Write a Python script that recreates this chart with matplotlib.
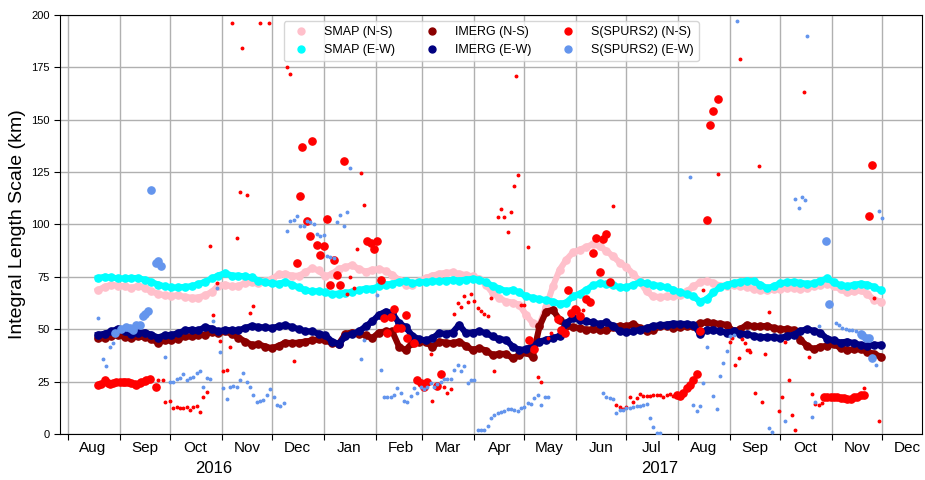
import numpy as np
import pandas as pd
import matplotlib
matplotlib.use("Agg")
import matplotlib.pyplot as plt
import matplotlib.dates as mdates
import matplotlib.transforms as mtransforms
from matplotlib.lines import Line2D

plt.rcParams['font.family'] = ['Liberation Sans', 'DejaVu Sans']

# 4-day sampled series, starting 2016-08-19
series_dates = pd.date_range('2016-08-19', periods=118, freq='4D')

smap_ns = [68.6, 70.2, 71.2, 70.7, 70.4, 69.6, 70.7, 69.7, 68.0, 66.9, 66.1, 65.9, 66.1, 65.4, 65.0, 65.1, 66.1, 67.8, 70.7, 71.3, 70.4,
           70.7, 72.0, 72.3, 71.8, 72.8, 73.9, 76.1, 76.4, 75.5, 75.5, 77.1, 79.1, 78.0, 75.2, 76.4, 78.7, 79.6, 80.6, 78.7, 77.5, 78.3, 78.7, 77.7, 76.0, 73.5, 71.0,
           71.2, 72.8, 74.4, 75.5, 76.4, 76.9, 77.1, 76.4, 75.8, 75.2, 74.0, 71.2, 67.2, 64.8, 63.2, 62.7, 61.6, 56.8, 52.9, 52.1, 60.8, 70.4, 78.3, 83.1, 86.6,
           87.9, 89.2, 90.6, 89.5, 87.4, 84.7, 81.8, 79.6, 76.4, 72.8, 68.0, 65.6, 65.3, 65.6, 65.6, 66.1, 68.0, 70.4, 72.3, 73.2, 72.0, 70.7, 70.7, 71.2, 70.7, 70.1,
           69.1, 68.8, 68.5, 69.1, 69.4, 69.7, 69.6, 69.4, 69.6, 70.4, 71.3, 71.7, 70.4, 69.1, 67.5, 68.0, 68.5, 66.9, 64.0, 63.2]

smap_ew = [74.4, 75.0, 74.7, 74.2, 74.2, 74.4, 74.4, 73.6, 72.5, 71.3, 70.4, 69.9, 69.9, 70.2, 70.5, 71.5, 72.6, 74.2, 75.6, 76.8, 75.6,
           75.5, 75.2, 74.7, 73.2, 72.3, 71.8, 71.7, 72.5, 71.3, 69.9, 68.6, 68.0, 68.2, 67.5, 66.7, 67.0, 67.4, 67.8, 68.6, 69.4, 69.4, 70.4, 71.3, 71.7, 72.5, 73.0,
           72.0, 72.3, 72.6, 72.8, 72.9, 73.1, 73.6, 73.2, 73.7, 74.0, 73.6, 72.3, 70.7, 69.4, 68.2, 68.8, 67.5, 65.6, 65.0, 64.3, 63.9, 63.1, 62.1, 62.7, 65.6,
           66.9, 68.8, 70.9, 71.8, 71.5, 70.9, 70.1, 69.9, 71.2, 72.3, 71.8, 71.0, 70.7, 69.9, 68.8, 67.5, 66.7, 65.6, 63.2, 64.3, 67.5, 70.1, 71.2, 72.0, 72.6, 73.2,
           72.8, 71.3, 69.6, 70.5, 72.0, 72.3, 72.6, 72.1, 71.7, 71.8, 73.1, 74.2, 72.3, 71.0, 70.5, 71.2, 71.7, 71.3, 70.1, 68.5]

imerg_ns = [45.7, 45.7, 46.5, 47.3, 46.2, 45.7, 46.5, 46.2, 45.2, 43.6, 44.6, 44.9, 45.4, 46.5, 46.5, 47.3, 47.3, 48.6, 48.1, 48.9, 47.8,
            46.0, 44.1, 42.5, 42.8, 41.7, 40.9, 42.0, 43.6, 43.3, 43.6, 44.1, 44.6, 45.2, 44.6, 43.3, 43.0, 47.8, 48.4, 47.8, 47.1, 45.7, 48.4, 48.9, 48.9, 41.7, 40.0,
            43.6, 43.9, 44.1, 41.4, 44.1, 43.6, 43.3, 44.1, 42.0, 40.1, 40.9, 39.8, 37.7, 38.2, 38.2, 36.1, 37.7, 38.9, 36.9, 51.3, 58.4, 59.2, 54.5, 51.6, 51.0,
            50.5, 49.7, 50.0, 49.7, 49.4, 51.0, 51.6, 51.3, 52.5, 50.5, 48.9, 49.7, 51.3, 51.6, 50.5, 51.0, 51.3, 51.3, 52.9, 53.2, 52.9, 52.5, 52.1, 48.9, 50.0, 52.1,
            51.3, 51.3, 51.6, 50.5, 50.0, 50.0, 49.7, 44.9, 42.0, 40.4, 41.7, 42.0, 43.0, 40.9, 40.1, 40.4, 40.4, 39.3, 38.2, 36.9]

imerg_ew = [47.3, 47.8, 48.9, 50.2, 48.9, 47.6, 48.4, 48.4, 47.3, 46.0, 47.1, 47.3, 48.1, 49.4, 49.7, 49.4, 51.0, 50.3, 48.9, 49.7, 49.4,
            49.5, 50.5, 51.6, 51.0, 50.8, 50.6, 51.3, 51.9, 51.0, 50.0, 49.0, 48.9, 47.8, 47.1, 44.1, 43.0, 46.5, 47.8, 48.9, 51.3, 53.7, 56.8, 58.4, 57.6, 52.9, 51.0,
            46.8, 45.2, 44.6, 45.7, 48.1, 47.8, 48.4, 52.1, 48.1, 48.4, 48.9, 48.1, 46.5, 45.2, 44.9, 41.7, 40.1, 40.4, 42.0, 44.1, 44.9, 45.7, 46.8, 52.9, 55.3,
            54.5, 53.7, 53.2, 52.5, 53.2, 51.6, 48.9, 48.6, 48.9, 49.7, 50.5, 51.6, 51.8, 52.2, 52.7, 52.5, 52.5, 52.1, 47.8, 49.7, 49.7, 48.9, 48.4, 48.9, 47.8, 47.6,
            46.8, 46.2, 46.2, 46.2, 45.7, 46.8, 47.3, 49.2, 50.0, 49.2, 48.1, 45.5, 44.6, 43.6, 44.1, 43.3, 42.5, 42.0, 42.5, 42.5]

# S(SPURS2) N-S, points passing the quality check (large) and the rest (small)
spurs_ns_big_dates = ['2016-08-19', '2016-08-21', '2016-08-23', '2016-08-25', '2016-08-26', '2016-08-28', '2016-08-30',
                      '2016-09-01', '2016-09-03', '2016-09-04', '2016-09-06', '2016-09-08', '2016-09-10', '2016-09-11',
                      '2016-09-13', '2016-09-14', '2016-09-16', '2016-09-17', '2016-09-19', '2016-09-23',
                      '2016-12-16', '2016-12-18', '2016-12-19', '2016-12-22', '2016-12-24', '2016-12-25', '2016-12-28',
                      '2016-12-30', '2017-01-01', '2017-01-03', '2017-01-05', '2017-01-07', '2017-01-09', '2017-01-11',
                      '2017-01-13', '2017-01-27', '2017-01-29', '2017-01-31', '2017-02-02', '2017-02-04', '2017-02-06',
                      '2017-02-08', '2017-02-10', '2017-02-12', '2017-02-14', '2017-02-16', '2017-02-19', '2017-02-20',
                      '2017-02-24', '2017-02-26', '2017-02-28', '2017-03-02', '2017-03-04', '2017-03-10', '2017-03-12',
                      '2017-05-04', '2017-05-07', '2017-05-21', '2017-05-23', '2017-05-25', '2017-05-27', '2017-05-29',
                      '2017-05-31', '2017-06-01', '2017-06-03', '2017-06-07', '2017-06-09', '2017-06-11', '2017-06-13',
                      '2017-06-15', '2017-06-17', '2017-06-19', '2017-06-21', '2017-07-31', '2017-08-02', '2017-08-04',
                      '2017-08-06', '2017-08-08', '2017-08-10', '2017-08-12', '2017-08-14', '2017-08-18', '2017-08-20',
                      '2017-08-22', '2017-08-25', '2017-10-27', '2017-10-29', '2017-10-31', '2017-11-02', '2017-11-04',
                      '2017-11-06', '2017-11-08', '2017-11-10', '2017-11-12', '2017-11-14', '2017-11-16', '2017-11-18',
                      '2017-11-20', '2017-11-23', '2017-11-25']
spurs_ns_big_vals = [23.2, 24.0, 25.8, 24.5, 23.7, 24.2, 24.7,
                     24.9, 24.7, 24.7, 24.9, 24.5, 23.9, 23.4,
                     24.2, 24.7, 25.3, 25.8, 26.1, 22.6,
                     81.8, 113.7, 137.0, 101.8, 94.6, 140.0, 90.0,
                     85.4, 89.5, 102.5, 71.0, 83.1, 76.0, 71.3,
                     130.4, 91.9, 91.1, 88.2, 91.9, 73.6, 55.3,
                     48.4, 56.0, 59.6, 50.5, 50.5, 56.8, 45.7,
                     43.3, 25.8, 24.2, 22.3, 25.0, 22.9, 28.7,
                     44.6, 40.6, 54.9, 49.7, 48.4, 68.8, 57.6,
                     59.6, 59.2, 56.5, 64.5, 63.2, 86.3, 93.5,
                     77.2, 93.0, 95.4, 72.3, 18.6, 18.2, 19.4,
                     21.8, 23.4, 25.5, 28.7, 49.2, 102.2, 147.5,
                     154.0, 160.0, 17.5, 17.5, 17.7, 17.5, 17.6,
                     17.3, 17.2, 16.8, 16.6, 17.5, 17.8, 18.4,
                     18.8, 103.8, 128.3]

spurs_ns_small_dates = ['2016-09-24', '2016-09-27', '2016-09-28', '2016-10-01', '2016-10-03', '2016-10-05', '2016-10-07',
                        '2016-10-09', '2016-10-11', '2016-10-13', '2016-10-15', '2016-10-17', '2016-10-19', '2016-10-21',
                        '2016-10-23', '2016-10-25', '2016-10-27', '2016-10-29', '2016-10-31', '2016-11-02', '2016-11-04',
                        '2016-11-06', '2016-11-07', '2016-11-10', '2016-11-12', '2016-11-13', '2016-11-16', '2016-11-18',
                        '2016-11-20', '2016-11-24', '2016-11-29', '2016-12-10', '2016-12-12', '2016-12-14',
                        '2017-01-15', '2017-01-17', '2017-01-19', '2017-01-21', '2017-01-23', '2017-01-25',
                        '2017-03-06', '2017-03-07', '2017-03-14', '2017-03-16', '2017-03-18', '2017-03-20', '2017-03-22',
                        '2017-03-24', '2017-03-26', '2017-03-28', '2017-03-30', '2017-04-01', '2017-04-03', '2017-04-05',
                        '2017-04-07', '2017-04-09', '2017-04-11', '2017-04-13', '2017-04-15', '2017-04-17', '2017-04-19',
                        '2017-04-21', '2017-04-23', '2017-04-25', '2017-04-26', '2017-04-27', '2017-04-29', '2017-05-01',
                        '2017-05-03', '2017-05-09', '2017-05-11', '2017-05-15', '2017-05-17', '2017-06-05', '2017-06-23',
                        '2017-06-25', '2017-06-27', '2017-06-29', '2017-07-01', '2017-07-03', '2017-07-05', '2017-07-07',
                        '2017-07-09', '2017-07-11', '2017-07-13', '2017-07-15', '2017-07-17', '2017-07-19', '2017-07-21',
                        '2017-07-23', '2017-07-25', '2017-07-27', '2017-07-29', '2017-08-16', '2017-08-25', '2017-09-01',
                        '2017-09-02', '2017-09-04', '2017-09-06', '2017-09-07', '2017-09-08', '2017-09-10', '2017-09-11',
                        '2017-09-12', '2017-09-13', '2017-09-16', '2017-09-18', '2017-09-20', '2017-09-22', '2017-09-24',
                        '2017-09-30', '2017-10-02', '2017-10-04', '2017-10-06', '2017-10-08', '2017-10-10', '2017-10-15',
                        '2017-10-18', '2017-10-20', '2017-10-22', '2017-10-24', '2017-10-26', '2017-11-20', '2017-11-26',
                        '2017-11-29']
spurs_ns_small_vals = [25.8, 25.8, 15.4, 15.9, 12.3, 12.7, 12.6,
                       12.6, 13.0, 11.5, 13.0, 13.4, 10.4, 17.8,
                       19.9, 89.8, 56.8, 72.0, 44.4, 29.8, 30.6,
                       41.7, 196.0, 93.5, 115.7, 184.0, 114.0, 57.7,
                       61.2, 196.0, 196.0, 175.0, 172.0, 35.0,
                       66.8, 75.1, 69.8, 88.3, 124.7, 109.3,
                       38.2, 15.9, 22.6, 19.7, 21.3, 57.1, 62.4,
                       60.8, 66.0, 63.2, 66.9, 63.5, 60.0, 58.8,
                       57.2, 56.5, 65.1, 29.8, 103.7, 107.4, 103.3,
                       96.3, 105.9, 118.2, 171.0, 123.4, 61.6, 61.3,
                       89.0, 27.0, 24.7, 45.7, 48.0, 59.2, 109.0,
                       13.8, 12.7, 11.8, 12.7, 17.5, 15.1, 17.0,
                       19.1, 18.2, 18.3, 18.2, 18.6, 18.6, 18.6,
                       17.8, 18.6, 19.1, 18.2, 68.8, 124.0, 44.1,
                       45.7, 33.0, 36.1, 179.0, 45.2, 43.6, 40.1,
                       40.1, 38.9, 19.7, 128.1, 15.0, 38.2, 58.1,
                       11.1, 17.5, 44.1, 25.5, 8.8, 1.9, 163.0,
                       36.6, 19.1, 14.2, 13.7, 14.6, 22.1, 64.8,
                       6.2]

# S(SPURS2) E-W
spurs_ew_big_dates = ['2016-08-29', '2016-09-02', '2016-09-05', '2016-09-07', '2016-09-09', '2016-09-11', '2016-09-13',
                      '2016-09-15', '2016-09-16', '2016-09-18', '2016-09-20', '2016-09-23', '2016-09-24', '2016-09-26',
                      '2017-10-28', '2017-10-30', '2017-11-18', '2017-11-19', '2017-11-21', '2017-11-23', '2017-11-25']
spurs_ew_big_vals = [48.4, 50.2, 51.0, 50.5, 49.7, 52.1, 52.1,
                     56.5, 57.0, 58.6, 116.4, 81.8, 82.6, 80.3,
                     91.9, 61.9, 47.6, 47.0, 45.7, 45.7, 36.1]

spurs_ew_small_dates = ['2016-08-19', '2016-08-22', '2016-08-24', '2016-08-26', '2016-08-28', '2016-09-28', '2016-10-01',
                        '2016-10-03', '2016-10-05', '2016-10-07', '2016-10-09', '2016-10-11', '2016-10-13', '2016-10-15',
                        '2016-10-17', '2016-10-19', '2016-10-21', '2016-10-23', '2016-10-25', '2016-10-27', '2016-10-29',
                        '2016-10-31', '2016-11-02', '2016-11-04', '2016-11-06', '2016-11-08', '2016-11-10', '2016-11-12',
                        '2016-11-14', '2016-11-16', '2016-11-18', '2016-11-20', '2016-11-22', '2016-11-24', '2016-11-26',
                        '2016-11-28', '2016-11-30', '2016-12-02', '2016-12-04', '2016-12-06', '2016-12-08', '2016-12-10',
                        '2016-12-12', '2016-12-14', '2016-12-16', '2016-12-18', '2016-12-20', '2016-12-22', '2016-12-24',
                        '2016-12-26', '2016-12-28', '2016-12-30', '2017-01-01', '2017-01-03', '2017-01-05', '2017-01-07',
                        '2017-01-09', '2017-01-11', '2017-01-13', '2017-01-15', '2017-01-17', '2017-01-23', '2017-01-25',
                        '2017-02-02', '2017-02-04', '2017-02-06', '2017-02-08', '2017-02-10', '2017-02-12', '2017-02-14',
                        '2017-02-16', '2017-02-18', '2017-02-20', '2017-02-22', '2017-02-24', '2017-02-26', '2017-02-28',
                        '2017-03-02', '2017-03-04', '2017-03-06', '2017-03-08', '2017-03-10', '2017-03-12', '2017-03-14',
                        '2017-03-16', '2017-03-18', '2017-03-20', '2017-03-22', '2017-03-24', '2017-03-26', '2017-03-28',
                        '2017-03-30', '2017-04-01', '2017-04-03', '2017-04-05', '2017-04-07', '2017-04-09', '2017-04-11',
                        '2017-04-13', '2017-04-15', '2017-04-17', '2017-04-19', '2017-04-21', '2017-04-23', '2017-04-25',
                        '2017-04-27', '2017-04-29', '2017-05-01', '2017-05-03', '2017-05-05', '2017-05-07', '2017-05-09',
                        '2017-05-11', '2017-05-13', '2017-05-15', '2017-06-17', '2017-06-19', '2017-06-21', '2017-06-23',
                        '2017-06-25', '2017-06-27', '2017-06-29', '2017-07-01', '2017-07-03', '2017-07-05', '2017-07-07',
                        '2017-07-09', '2017-07-11', '2017-07-13', '2017-07-15', '2017-07-17', '2017-07-19', '2017-07-21',
                        '2017-08-08', '2017-08-10', '2017-08-12', '2017-08-14', '2017-08-16', '2017-08-18', '2017-08-22',
                        '2017-08-24', '2017-08-26', '2017-08-28', '2017-08-30', '2017-09-01', '2017-09-03', '2017-09-05',
                        '2017-09-24', '2017-09-26', '2017-10-04', '2017-10-10', '2017-10-12', '2017-10-14', '2017-10-16',
                        '2017-10-17', '2017-10-20', '2017-10-22', '2017-10-24', '2017-11-03', '2017-11-05', '2017-11-07',
                        '2017-11-09', '2017-11-11', '2017-11-13', '2017-11-15', '2017-11-27', '2017-11-29', '2017-12-01']
spurs_ew_small_vals = [55.3, 35.7, 32.5, 41.7, 43.3, 36.9, 25.0,
                       25.0, 26.3, 26.6, 28.5, 25.5, 26.9, 27.4,
                       29.3, 29.8, 22.3, 26.9, 26.1, 54.0, 69.6,
                       39.0, 21.8, 16.6, 22.3, 22.9, 22.6, 25.8,
                       29.3, 25.0, 22.3, 18.6, 15.1, 15.9, 16.2,
                       18.6, 21.5, 17.8, 13.9, 13.4, 14.6, 96.7,
                       101.4, 102.2, 104.1, 99.0, 99.0, 101.8, 101.0,
                       100.3, 95.5, 94.6, 95.1, 85.0, 84.4, 83.9,
                       101.0, 104.3, 99.4, 105.7, 126.9, 35.7, 44.9,
                       66.1, 30.6, 17.4, 17.4, 17.4, 18.6, 22.1,
                       19.4, 15.9, 15.4, 18.2, 21.8, 19.4, 22.3,
                       21.3, 22.3, 24.2, 22.3, 23.9, 25.0, 26.1,
                       26.1, 26.1, 30.6, 33.0, 29.8, 32.2, 24.2,
                       25.8, 25.5, 1.9, 1.9, 1.9, 3.8, 7.5,
                       9.1, 10.2, 10.7, 11.1, 11.8, 11.8, 11.5,
                       11.1, 12.3, 12.7, 14.6, 14.3, 17.0, 18.6,
                       13.9, 17.5, 17.5, 19.7, 17.5, 17.0, 16.6,
                       10.2, 11.5, 11.5, 12.3, 12.3, 12.7, 13.1,
                       13.4, 13.9, 14.3, 7.8, 3.5, 0.6, 0.3,
                       122.5, 13.9, 11.1, 13.4, 24.2, 41.7, 18.2,
                       11.8, 27.7, 33.8, 39.8, 46.5, 47.3, 197.0,
                       2.7, 1.1, 6.4, 112.0, 107.8, 113.1, 111.8,
                       190.0, 8.0, 15.4, 51.6, 52.9, 52.1, 50.5,
                       50.0, 49.7, 49.4, 48.9, 33.0, 106.2, 103.0]

labels = ['SMAP (N-S)', 'SMAP (E-W)', 'IMERG (N-S)', 'IMERG (E-W)', 'S(SPURS2) (N-S)', 'S(SPURS2) (E-W)']
colors = ['pink', 'cyan', 'darkred', 'navy', 'red', 'cornflowerblue']
year_labels = ['2016', '2017']
year_label_dates = ['2016-10-27', '2017-07-21']

fig = plt.figure(figsize=(9.25, 4.8), dpi=100)
ax = fig.add_axes([0.065, 0.096, 0.9318, 0.873])

for vals, c in zip([smap_ns, smap_ew, imerg_ns, imerg_ew], colors[:4]):
    ax.plot(series_dates, vals, '-o', color=c, lw=4.4, ms=5.2, solid_joinstyle='round', zorder=2)

ax.plot(pd.to_datetime(spurs_ns_big_dates), spurs_ns_big_vals, 'o', color=colors[4], ms=5.2, ls='none', zorder=3)
ax.plot(pd.to_datetime(spurs_ns_small_dates), spurs_ns_small_vals, 'o', color=colors[4], ms=1.8, ls='none', zorder=3)
ax.plot(pd.to_datetime(spurs_ew_big_dates), spurs_ew_big_vals, 'o', color=colors[5], ms=5.2, ls='none', zorder=3)
ax.plot(pd.to_datetime(spurs_ew_small_dates), spurs_ew_small_vals, 'o', color=colors[5], ms=1.8, ls='none', zorder=3)

ax.set_xlim(pd.Timestamp('2016-07-27 10:00'), pd.Timestamp('2017-12-24 17:00'))
ax.set_ylim(0, 200)
ax.set_yticks(np.arange(0, 201, 25))
ax.tick_params(axis='y', labelsize=8, length=4)

ax.xaxis.set_major_locator(mdates.MonthLocator())
ax.xaxis.set_major_formatter(plt.NullFormatter())
ax.xaxis.set_minor_locator(mdates.MonthLocator(bymonthday=16))
ax.xaxis.set_minor_formatter(mdates.DateFormatter('%b'))
ax.tick_params(axis='x', which='major', length=4)
ax.tick_params(axis='x', which='minor', length=0, labelsize=11, pad=5)

ax.grid(True, which='major', color='#b0b0b0', lw=1)
ax.set_axisbelow(True)
ax.set_ylabel('Integral Length Scale (km)', fontsize=14)

trans = mtransforms.blended_transform_factory(ax.transData, ax.transAxes)
for lab, d in zip(year_labels, year_label_dates):
    ax.text(pd.Timestamp(d), -0.0835, lab, transform=trans, ha='center', va='center', fontsize=12)

handles = [Line2D([], [], marker='o', ls='none', color=c, ms=5) for c in colors]
ax.legend(handles, labels, loc='upper center', ncol=3, fontsize=9)

fig.savefig('out.png', dpi=100)
